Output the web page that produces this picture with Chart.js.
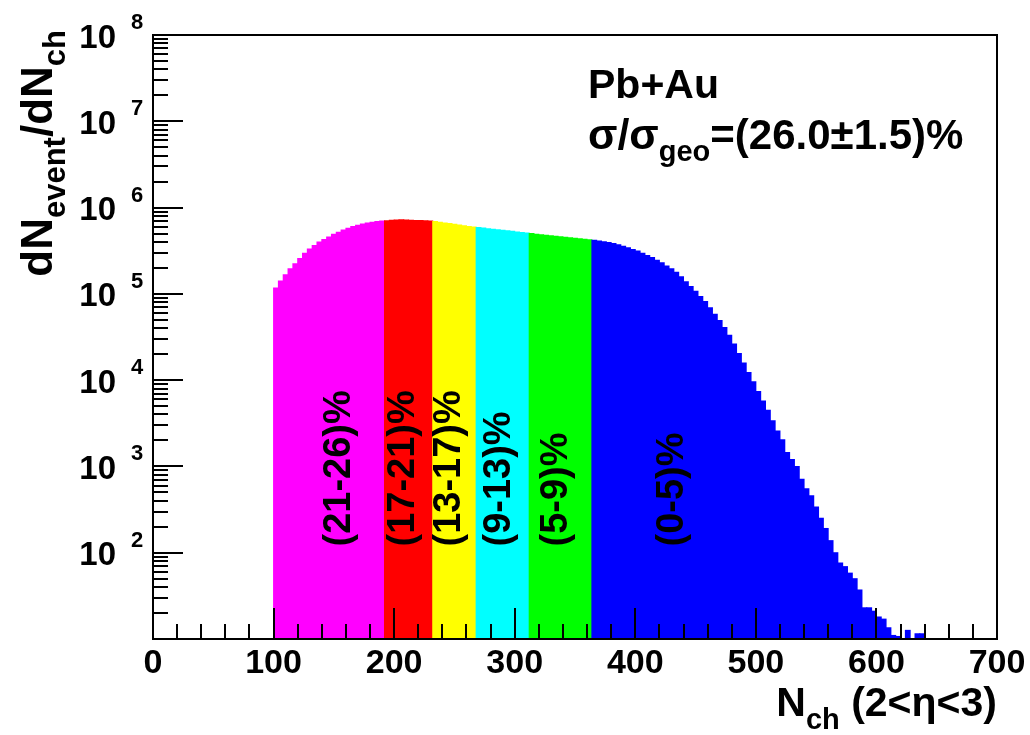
<!DOCTYPE html>
<html>
<head>
<meta charset="utf-8">
<script src="https://cdn.jsdelivr.net/npm/chart.js@4.4.0/dist/chart.umd.min.js"></script>
<style>
  html, body { margin: 0; padding: 0; background: #fff; }
  #wrap { width: 1030px; height: 735px; }
</style>
</head>
<body>
<div id="wrap"><canvas id="c" width="1030" height="735"></canvas></div>
<script>
// Charged-particle multiplicity histogram, Pb+Au, 2<eta<3
const BIN_START = 100;   // lower edge of the first filled bin
const BIN_WIDTH = 4;     // bin width in N_ch

// events per bin, one entry per bin starting at BIN_START (0 = empty bin)
const counts = [
  117000, 141000, 166000, 195000, 224000, 257000, 295000, 331000, 363000, 398000,
  427000, 457000, 490000, 519000, 550000, 575000, 603000, 624000, 646000, 661000,
  676000, 689000, 697000,
  705000, 711000, 719000, 721000, 718000, 713000, 710000, 706000, 703000, 700000,
  689000, 676000, 664000, 652000, 640000, 628000, 617000, 605000, 596000,
  586000, 578000, 570000, 562000, 553000, 546000, 537000, 530000, 521000, 514000, 506000,
  499000, 492000, 485000, 479000, 472000, 466000, 459000, 453000, 447000, 441000,
  435000, 429000, 423000,
  417000, 409000, 401000, 393000, 384000, 372000, 357000, 343000, 327000, 313000,
  295000, 279000, 263000, 245000, 229000, 211000, 195000, 178000, 158000, 138000,
  122000, 107000, 93300, 81300, 69200, 58200, 49000, 40700, 33100, 26300,
  20400, 15800, 12300, 9550, 7410, 5750, 4470, 3390, 2570, 2040,
  1450, 1200, 1000, 708, 550, 457, 339, 251, 191, 138,
  100, 76, 69, 58, 50, 37, 23, 23, 21, 18,
  17, 13.5, 11, 10.7, 0, 12.6, 0, 11.5, 11.5
];

// centrality classes: N_ch edges, fill colours and labels
const classEdges  = [100, 192, 232, 268, 312, 364, 640];
const classColors = ['#ff00ff', '#ff0000', '#ffff00', '#00ffff', '#00ff00', '#0000ff'];
const classLabels = ['(21-26)%', '(17-21)%', '(13-17)%', '(9-13)%', '(5-9)%', '(0-5)%'];
const classLabelX = [151.8, 204.9, 243.8, 285.3, 331.8, 428.0];
const classLabelY = 118;

const xTickValues = [0, 100, 200, 300, 400, 500, 600, 700];
const yDecades = [2, 3, 4, 5, 6, 7, 8];

const FONT = "'Liberation Sans', Arial, Helvetica, sans-serif";

const points = counts.map((c, i) => ({
  x: BIN_START + BIN_WIDTH * (i + 0.5),
  y: c > 0 ? c : null
}));
const barColors = points.map(p => {
  let k = classEdges.findIndex((e, j) => j > 0 && p.x < e) - 1;
  if (k < 0) k = classColors.length - 1;
  return classColors[k];
});

// text made of runs with their own size and baseline shift (for sub/superscripts)
function runsWidth(ctx, runs) {
  let w = 0;
  for (const r of runs) { ctx.font = 'bold ' + r.size + 'px ' + FONT; w += ctx.measureText(r.t).width; }
  return w;
}
function drawRuns(ctx, runs, x, y) {
  let cx = x;
  ctx.textAlign = 'left';
  ctx.textBaseline = 'alphabetic';
  for (const r of runs) {
    ctx.font = 'bold ' + r.size + 'px ' + FONT;
    ctx.fillText(r.t, cx, y + (r.dy || 0));
    cx += ctx.measureText(r.t).width;
  }
}

const rootStyle = {
  id: 'rootStyle',
  afterDatasetsDraw(chart) {
    const { ctx, chartArea: a, scales: { x, y } } = chart;
    ctx.save();
    ctx.strokeStyle = '#000';
    ctx.fillStyle = '#000';
    ctx.lineWidth = 2;

    // frame
    ctx.strokeRect(a.left, a.top, a.right - a.left, a.bottom - a.top);

    // x tick marks pointing into the frame
    ctx.beginPath();
    for (let v = 0; v <= 700; v += 20) {
      const px = Math.round(x.getPixelForValue(v));
      const len = v % 100 === 0 ? 31 : 15;
      ctx.moveTo(px, a.bottom);
      ctx.lineTo(px, a.bottom - len);
    }
    // y tick marks (log decades with 2..9 subdivisions)
    for (let d = 1; d < 8; d++) {
      for (let m = 1; m <= 9; m++) {
        const py = Math.round(y.getPixelForValue(m * Math.pow(10, d)));
        const len = m === 1 ? 30 : 15;
        ctx.moveTo(a.left, py);
        ctx.lineTo(a.left + len, py);
      }
    }
    ctx.stroke();

    // y tick labels 10^n
    for (const d of yDecades) {
      const py = y.getPixelForValue(Math.pow(10, d));
      ctx.font = 'bold 33px ' + FONT;
      ctx.textAlign = 'right';
      ctx.textBaseline = 'alphabetic';
      ctx.fillText('10', 116, py + 12.5);
      ctx.font = 'bold 22px ' + FONT;
      ctx.textAlign = 'left';
      ctx.fillText(String(d), 131, py - 6);
    }

    // y axis title, rotated
    const yTitle = [
      { t: 'dN', size: 44 }, { t: 'event', size: 31, dy: 13 },
      { t: '/dN', size: 44 }, { t: 'ch', size: 31, dy: 13 }
    ];
    ctx.save();
    ctx.translate(52, 30 + runsWidth(ctx, yTitle));
    ctx.rotate(-Math.PI / 2);
    drawRuns(ctx, yTitle, 0, 0);
    ctx.restore();

    // x axis title
    const xTitle = [
      { t: 'N', size: 41 }, { t: 'ch', size: 29, dy: 13 },
      { t: ' (2<\u03b7<3)', size: 41 }
    ];
    drawRuns(ctx, xTitle, a.right - runsWidth(ctx, xTitle), 716);

    // reaction and cross-section annotation
    drawRuns(ctx, [{ t: 'Pb+Au', size: 41 }], 588, 98);
    drawRuns(ctx, [
      { t: '\u03c3/\u03c3', size: 43 }, { t: 'geo', size: 29, dy: 12 },
      { t: '=(26.0\u00b11.5)%', size: 42 }
    ], 588, 149);

    // centrality class labels, reading upward
    ctx.font = 'bold 38px ' + FONT;
    ctx.textAlign = 'left';
    ctx.textBaseline = 'alphabetic';
    classLabels.forEach((lab, i) => {
      const px = x.getPixelForValue(classLabelX[i]);
      const py = y.getPixelForValue(classLabelY);
      ctx.save();
      ctx.translate(px + 13.5, py);
      ctx.rotate(-Math.PI / 2);
      ctx.fillText(lab, 0, 0);
      ctx.restore();
    });

    ctx.restore();
  }
};

new Chart(document.getElementById('c'), {
  type: 'bar',
  data: {
    datasets: [{
      data: points,
      backgroundColor: barColors,
      borderWidth: 0,
      barPercentage: 1,
      categoryPercentage: 1,
      inflateAmount: 0.5
    }]
  },
  options: {
    responsive: false,
    animation: false,
    events: [],
    layout: { padding: { left: 0, right: 33, top: 35, bottom: 0 } },
    plugins: { legend: { display: false }, tooltip: { enabled: false } },
    scales: {
      x: {
        type: 'linear',
        min: 0, max: 700,
        offset: false,
        grid: { display: false, drawTicks: false, offset: false },
        border: { display: false },
        afterBuildTicks: s => { s.ticks = xTickValues.map(v => ({ value: v })); },
        ticks: {
          color: '#000',
          font: { family: FONT, weight: 'bold', size: 34 },
          padding: 4,
          maxRotation: 0,
          autoSkip: false
        },
        afterFit: s => { s.height = 96; }
      },
      y: {
        type: 'logarithmic',
        min: 10, max: 1e8,
        grid: { display: false, drawTicks: false },
        border: { display: false },
        ticks: { display: false },
        afterFit: s => { s.width = 153; }
      }
    }
  },
  plugins: [rootStyle]
});
</script>
</body>
</html>
